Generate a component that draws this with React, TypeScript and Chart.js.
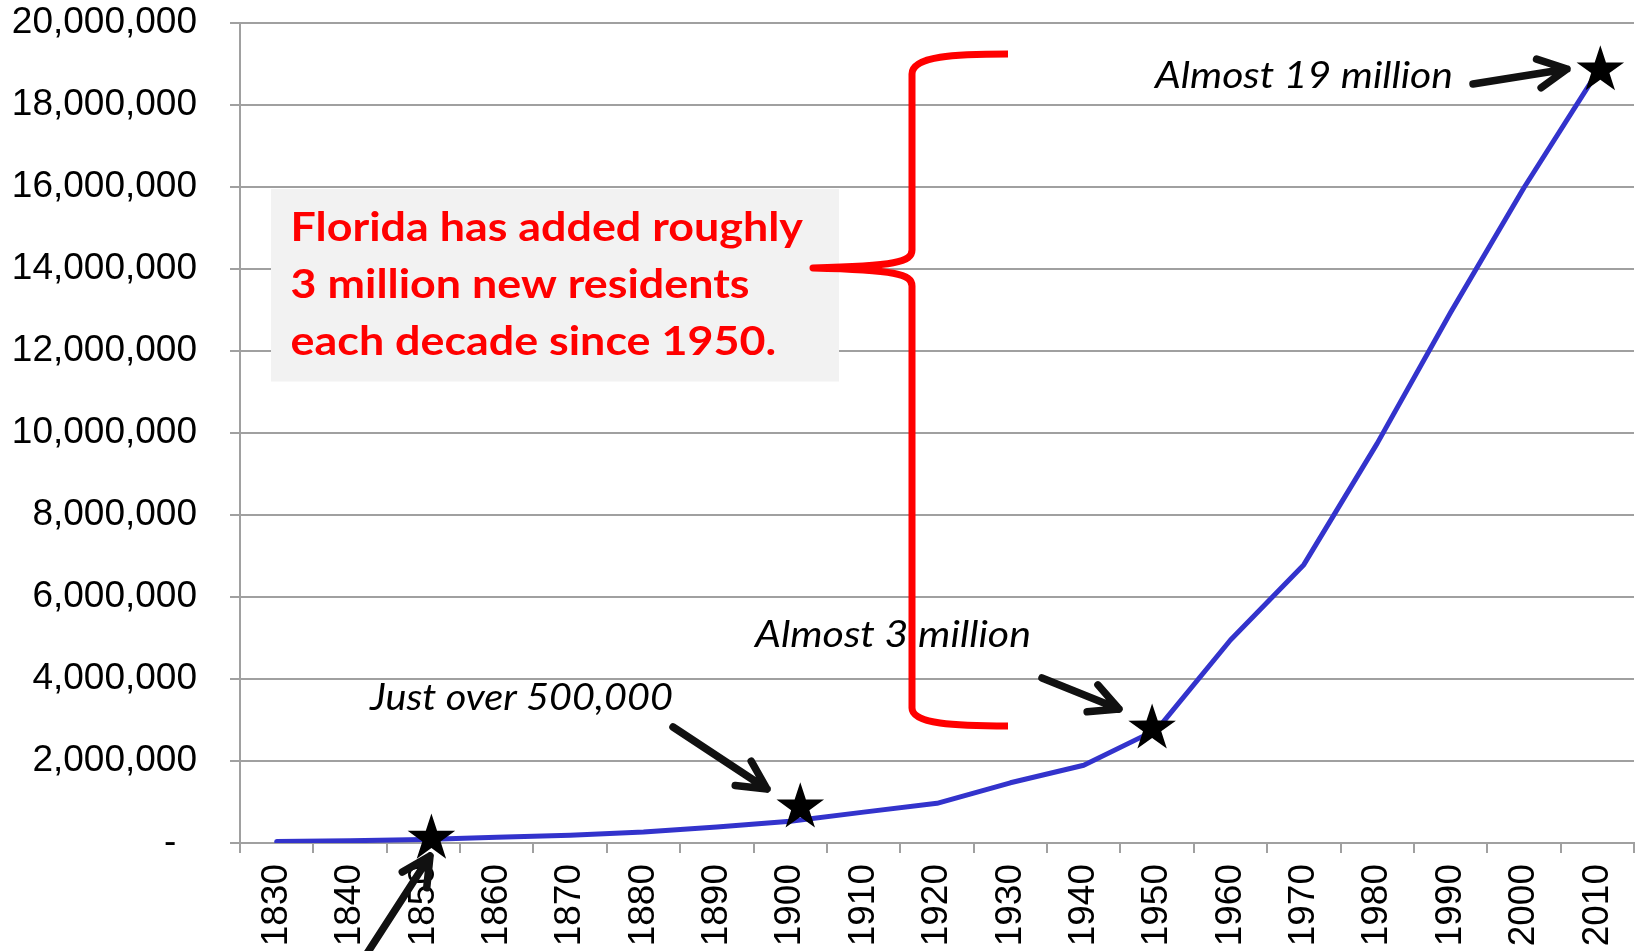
import React, { useEffect, useRef } from 'react';
import { Chart, registerables } from 'chart.js';

Chart.register(...registerables);

// ---- Data ----
const years = ['1830', '1840', '1850', '1860', '1870', '1880', '1890', '1900', '1910', '1920',
  '1930', '1940', '1950', '1960', '1970', '1980', '1990', '2000', '2010'];
const population = [34730, 54477, 87445, 140424, 187748, 269493, 391422, 528542, 752619, 968470,
  1468211, 1897414, 2771305, 4951560, 6789443, 9746324, 12937926, 15982378, 18801310];
const yTickValues = [0, 2000000, 4000000, 6000000, 8000000, 10000000, 12000000, 14000000,
  16000000, 18000000, 20000000];
const yTickLabels = ['-  ', '2,000,000', '4,000,000', '6,000,000', '8,000,000', '10,000,000',
  '12,000,000', '14,000,000', '16,000,000', '18,000,000', '20,000,000'];
const starYears = ['1850', '1900', '1950', '2010'];
const noteTexts = ['Just over 500,000', 'Almost 3 million', 'Almost 19 million'];
const calloutLines = ['Florida has added roughly', '3 million new residents', 'each decade since 1950.'];

// ---- Styling / layout (reference pixel space) ----
const GRID = '#A0A0A0';
const REF = { l: 240, t: 23, r: 1634, b: 843 };
const starOffsets = [[8, -1], [10, -14], [-5, -1], [3, -2]];
const notePlacement = [
  { x: 370, base: 710, w: 303 },
  { x: 755, base: 646.5, w: 276 },
  { x: 1155, base: 88, w: 298 },
];
const arrows = [
  { tail: [366, 955], tip: [430, 856] },
  { tail: [673, 727], tip: [767, 789] },
  { tail: [1042, 678], tip: [1119, 709] },
  { tail: [1473, 84], tip: [1567, 69] },
];

function drawStar(ctx: CanvasRenderingContext2D, cx: number, cy: number, R: number, r: number) {
  ctx.beginPath();
  for (let i = 0; i < 10; i++) {
    const ang = -Math.PI / 2 + (i * Math.PI) / 5;
    const rad = i % 2 === 0 ? R : r;
    const x = cx + rad * Math.cos(ang);
    const y = cy + rad * Math.sin(ang);
    if (i === 0) ctx.moveTo(x, y); else ctx.lineTo(x, y);
  }
  ctx.closePath();
  ctx.fill();
}

const annotationPlugin = {
  id: 'annotationPlugin',
  afterDatasetsDraw(chart: any) {
    const { ctx, chartArea: ca } = chart;
    const kx = ca.width / (REF.r - REF.l);
    const ky = ca.height / (REF.b - REF.t);
    const X = (x: number) => ca.left + (x - REF.l) * kx;
    const Y = (y: number) => ca.top + (y - REF.t) * ky;

    ctx.save();
    ctx.textBaseline = 'alphabetic';
    ctx.textAlign = 'left';

    // grey callout box
    ctx.fillStyle = '#F2F2F2';
    ctx.fillRect(X(271), Y(189), X(839) - X(271), Y(381.5) - Y(189));

    // red callout text
    ctx.fillStyle = '#FF0000';
    ctx.font = 'bold 40px Lato';
    const w0 = ctx.measureText(calloutLines[0]).width;
    const kRed = (X(803) - X(290.6)) / w0;
    [240.5, 298, 355].forEach((b, i) => {
      ctx.save();
      ctx.translate(X(290.6), Y(b));
      ctx.scale(kRed, 1);
      ctx.fillText(calloutLines[i], 0, 0);
      ctx.restore();
    });

    // italic notes
    ctx.fillStyle = '#000000';
    ctx.font = 'italic 37px Lato';
    noteTexts.forEach((t, i) => {
      const p = notePlacement[i];
      const w = ctx.measureText(t).width;
      const k = (X(p.x + p.w) - X(p.x)) / w;
      ctx.save();
      ctx.translate(X(p.x), Y(p.base));
      ctx.scale(k, 1);
      ctx.fillText(t, 0, 0);
      ctx.restore();
    });

    // red brace
    ctx.strokeStyle = '#FF0000';
    ctx.lineWidth = 7;
    ctx.lineCap = 'butt';
    ctx.lineJoin = 'round';
    ctx.beginPath();
    ctx.moveTo(X(1008), Y(54));
    ctx.bezierCurveTo(X(955), Y(54), X(912), Y(56), X(912), Y(74));
    ctx.lineTo(X(912), Y(250));
    ctx.bezierCurveTo(X(912), Y(262), X(895), Y(266), X(813), Y(268));
    ctx.bezierCurveTo(X(895), Y(270), X(912), Y(274), X(912), Y(286));
    ctx.lineTo(X(912), Y(708));
    ctx.bezierCurveTo(X(912), Y(724), X(955), Y(726), X(1008), Y(726));
    ctx.stroke();

    // arrows
    ctx.strokeStyle = '#111111';
    ctx.lineWidth = 7.5;
    ctx.lineCap = 'round';
    ctx.lineJoin = 'round';
    arrows.forEach((a) => {
      const tx = X(a.tip[0]), ty = Y(a.tip[1]);
      const sx0 = X(a.tail[0]), sy0 = Y(a.tail[1]);
      const ang = Math.atan2(sy0 - ty, sx0 - tx);
      const L = 32, h = (27 * Math.PI) / 180;
      ctx.beginPath();
      ctx.moveTo(sx0, sy0);
      ctx.lineTo(tx, ty);
      ctx.moveTo(tx + L * Math.cos(ang + h), ty + L * Math.sin(ang + h));
      ctx.lineTo(tx, ty);
      ctx.lineTo(tx + L * Math.cos(ang - h), ty + L * Math.sin(ang - h));
      ctx.stroke();
    });

    // stars on data points
    const meta = chart.getDatasetMeta(0);
    ctx.fillStyle = '#000000';
    starYears.forEach((yr, i) => {
      const idx = years.indexOf(yr);
      const pt = meta.data[idx];
      drawStar(ctx, pt.x + starOffsets[i][0] * kx, pt.y + starOffsets[i][1] * ky, 25, 9.6);
    });

    ctx.restore();
  },
};

export default function App() {
  const canvasRef = useRef<HTMLCanvasElement | null>(null);

  useEffect(() => {
    document.body.style.margin = '0';
    document.body.style.overflow = 'hidden';
    const canvas = canvasRef.current;
    if (!canvas) return;
    const tickFont = { family: '"Liberation Sans", Arial, sans-serif', size: 37 };
    const chart = new Chart(canvas, {
      type: 'line',
      data: {
        labels: years,
        datasets: [
          {
            label: 'Florida population',
            data: population,
            borderColor: '#3333CC',
            borderWidth: 5,
            pointRadius: 0,
            tension: 0,
            fill: false,
            borderCapStyle: 'round',
            borderJoinStyle: 'round',
          },
        ],
      },
      options: {
        animation: false,
        responsive: true,
        maintainAspectRatio: false,
        layout: { padding: { top: 23, right: 5, bottom: 0, left: 0 } },
        plugins: {
          legend: { display: false },
          tooltip: { enabled: false },
          title: { display: false },
        },
        scales: {
          x: {
            type: 'category',
            offset: true,
            grid: {
              offset: true,
              drawOnChartArea: false,
              drawTicks: true,
              tickLength: 10,
              color: GRID,
              lineWidth: 2,
            },
            border: { display: true, color: GRID, width: 2 },
            ticks: {
              autoSkip: false,
              minRotation: 90,
              maxRotation: 90,
              padding: 11,
              color: '#000000',
              font: tickFont,
            },
            afterFit: (s: any) => {
              s.height = 108;
              s.paddingLeft = 0;
              s.paddingRight = 0;
            },
          },
          y: {
            min: 0,
            max: 20000000,
            afterBuildTicks: (s: any) => {
              s.ticks = yTickValues.map((v) => ({ value: v }));
            },
            grid: {
              color: GRID,
              lineWidth: 2,
              drawTicks: true,
              tickLength: 10,
            },
            border: { display: true, color: GRID, width: 2 },
            ticks: {
              padding: 33,
              color: '#000000',
              font: tickFont,
              callback: (_v: any, i: number) => yTickLabels[i],
            },
            afterFit: (s: any) => {
              s.width = 240;
              s.paddingTop = 0;
              s.paddingBottom = 0;
            },
          },
        },
      },
      plugins: [annotationPlugin],
    } as any);
    return () => chart.destroy();
  }, []);

  return (
    <div style={{ width: '1639px', height: '951px', position: 'relative', background: '#ffffff' }}>
      <canvas ref={canvasRef} />
    </div>
  );
}
